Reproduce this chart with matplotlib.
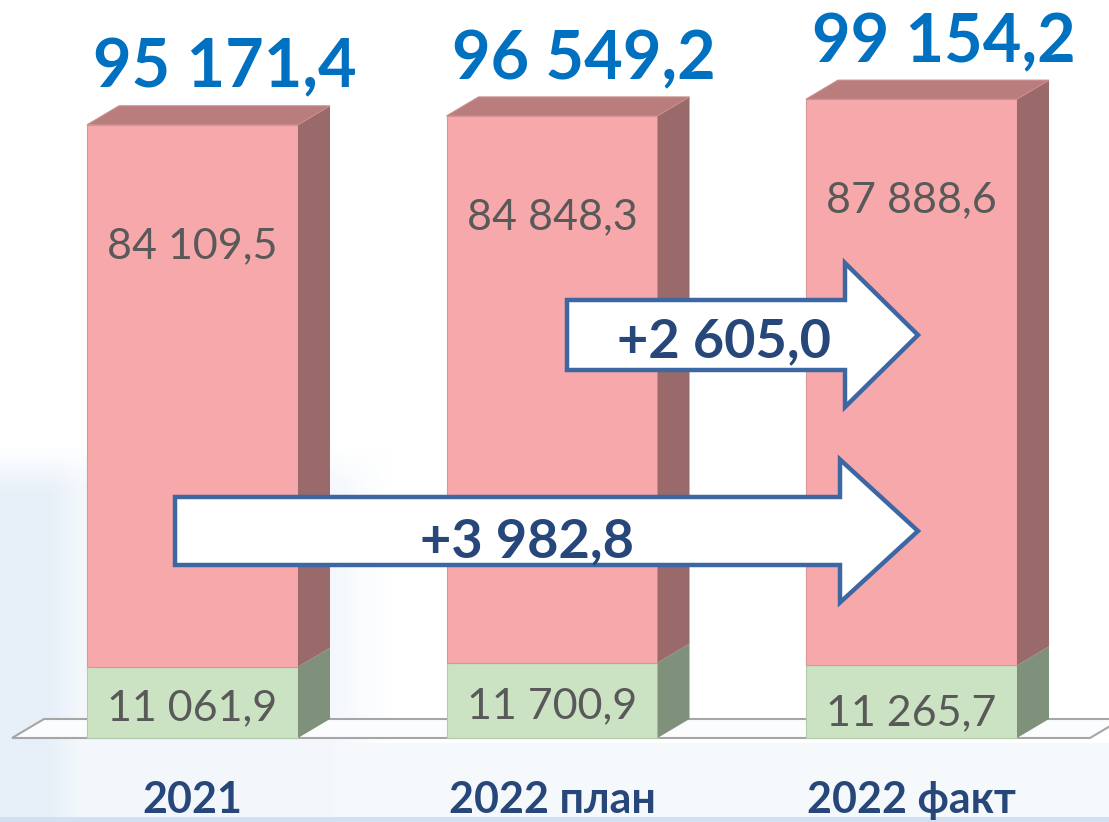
import numpy as np
import matplotlib.pyplot as plt
from matplotlib.patches import Polygon

categories = ['2021', '2022 план', '2022 факт']
green_vals = [11061.9, 11700.9, 11265.7]
pink_vals = [84109.5, 84848.3, 87888.6]
totals = [95171.4, 96549.2, 99154.2]

W, H = 1109, 822
X0, STEP = 192.5, 359.5   # px of first bar centre, px between bars
Y0, K = 738, 0.006443     # px of zero line, px per unit

bw = 211 / STEP           # front face width
ddx, ddy = 32 / STEP, 19 / K   # 3d depth offset

pink_front, pink_side, pink_top = '#f7a8ab', '#9a696a', '#b97d7e'
green_front, green_side = '#cbe3c3', '#7f917a'
blue_num = '#0070c0'
navy = '#27477a'
grey_txt = '#595959'
arrow_edge = '#3d67a3'
FONT = ['Lato', 'DejaVu Sans']


def fmt(v):
    return f'{v:,.1f}'.replace(',', ' ').replace('.', ',')


def to_data(xp, yp):
    return (xp - X0) / STEP, (Y0 - yp) / K


fig = plt.figure(figsize=(W / 100, H / 100), dpi=100)

# background tint
bg = fig.add_axes([0, 0, 1, 1])
yy, xx = np.mgrid[0:H, 0:W]
a = 0.22 * np.clip((390 - xx) / 60, 0, 1) * np.clip((yy - 445) / 40, 0, 1)
a += 0.25 * np.clip((80 - xx) / 30, 0, 1) * np.clip((yy - 455) / 40, 0, 1)
a = np.maximum(a, 0.18 * (yy > 742))
a[yy >= 817] = 0.9
tint = np.array([0.80, 0.87, 0.95])
img = np.ones((H, W, 3)) * (1 - a[..., None]) + tint * a[..., None]
bg.imshow(img, extent=[0, W, H, 0], aspect='auto')
bg.axis('off')

ax = fig.add_axes([0, 0, 1, 1])
ax.patch.set_alpha(0)
xmin, ymin = to_data(0, H)
xmax, ymax = to_data(W, 0)
ax.set_xlim(xmin, xmax)
ax.set_ylim(ymin, ymax)
ax.axis('off')

# floor
fl, _ = to_data(12, 0)
fr, _ = to_data(1090, 0)
ax.add_patch(Polygon([(fl, 0), (fr, 0), (fr + ddx, ddy), (fl + ddx, ddy)],
                     closed=True, facecolor='#fbfcfe', edgecolor='#a6a6a6',
                     linewidth=1.5, zorder=1))

x = np.arange(len(categories))
ax.bar(x, green_vals, width=bw, color=green_front, edgecolor='#b5c9ae',
       linewidth=0.8, zorder=2)
ax.bar(x, pink_vals, bottom=green_vals, width=bw, color=pink_front,
       edgecolor='#d99597', linewidth=0.8, zorder=2)

for i in range(len(categories)):
    g = green_vals[i]
    t = green_vals[i] + pink_vals[i]
    l, r = x[i] - bw / 2, x[i] + bw / 2
    ax.add_patch(Polygon([(r, 0), (r + ddx, ddy), (r + ddx, g + ddy), (r, g)],
                         facecolor=green_side, edgecolor='none', zorder=2))
    ax.add_patch(Polygon([(r, g), (r + ddx, g + ddy), (r + ddx, t + ddy), (r, t)],
                         facecolor=pink_side, edgecolor='none', zorder=2))
    ax.add_patch(Polygon([(l, t), (r, t), (r + ddx, t + ddy), (l + ddx, t + ddy)],
                         facecolor=pink_top, edgecolor='#c98d8e', linewidth=0.8,
                         zorder=2))

    # totals above bars
    ax.text(x[i] + ddx, totals[i] + ddy + 18 / K, fmt(totals[i]), ha='center',
            va='baseline', fontsize=48, fontweight='bold', color=blue_num,
            family=FONT, zorder=5)
    # category labels
    ax.text(x[i], to_data(0, 813)[1], categories[i], ha='center', va='baseline',
            fontsize=31, fontweight='bold', color=navy, family=FONT, zorder=5)

# segment labels (baseline offsets in px)
pink_off = [133, 113, 113]
green_base = [720, 718, 725]
for i in range(len(categories)):
    t = green_vals[i] + pink_vals[i]
    ax.text(x[i], t - pink_off[i] / K, fmt(pink_vals[i]), ha='center',
            va='baseline', fontsize=31, color=grey_txt, family=FONT, zorder=4)
    ax.text(x[i], to_data(0, green_base[i])[1], fmt(green_vals[i]), ha='center',
            va='baseline', fontsize=31, color=grey_txt, family=FONT, zorder=4)


def block_arrow(left, tip, yc, body_h, head_h, head_l, text, text_x, text_base):
    xl, _ = to_data(left, 0)
    xt, _ = to_data(tip, 0)
    xb, _ = to_data(tip - head_l, 0)
    _, y = to_data(0, yc)
    bh, hh = body_h / 2 / K, head_h / 2 / K
    pts = [(xl, y - bh), (xb, y - bh), (xb, y - hh), (xt, y), (xb, y + hh),
           (xb, y + bh), (xl, y + bh)]
    ax.add_patch(Polygon(pts, closed=True, facecolor='white',
                         edgecolor=arrow_edge, linewidth=3.2, joinstyle='miter',
                         zorder=3))
    tx, ty = to_data(text_x, text_base)
    ax.text(tx, ty, text, ha='center', va='baseline', fontsize=39,
            fontweight='bold', color=navy, family=FONT, zorder=4)


d1 = totals[2] - totals[1]
d2 = totals[2] - totals[0]
block_arrow(567, 918, 335, 70, 144, 73, '+' + fmt(d1), 724, 357)
block_arrow(175, 918, 531, 68, 143, 78, '+' + fmt(d2), 527, 557)

fig.savefig('out.png', dpi=100)
